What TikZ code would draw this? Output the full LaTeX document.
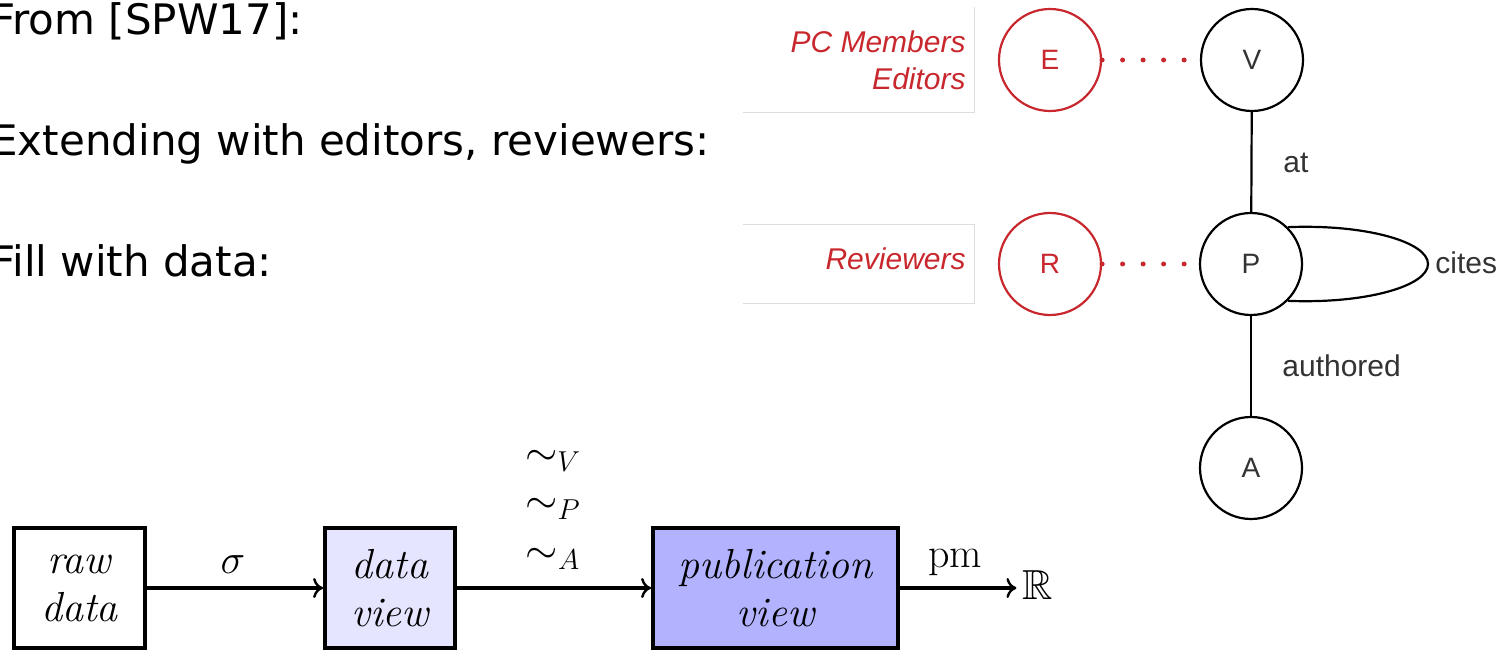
\documentclass[tikz,border=0pt]{standalone}
\usepackage{amssymb}
\usepackage{fontspec}
\usetikzlibrary{arrows.meta}
\newfontfamily\slidefont{DejaVu Sans}
\newfontfamily\diafont{Liberation Sans}
\definecolor{erred}{RGB}{200,40,45}
\definecolor{ink}{RGB}{51,51,51}
\definecolor{framegray}{RGB}{222,222,222}
\begin{document}
\begin{tikzpicture}[x=0.5pt,y=-0.5pt,
  heading/.style={anchor=base west, inner sep=0pt, font=\slidefont\fontsize{21}{25}\selectfont},
  entity/.style={circle, draw=black, line width=1.1pt, minimum size=51pt, inner sep=0pt,
    font=\diafont\fontsize{14}{16}\selectfont, text=ink},
  extentity/.style={entity, draw=erred, text=erred},
  edgelabel/.style={anchor=base west, inner sep=0pt, font=\diafont\fontsize{15}{18}\selectfont, text=ink},
  rolelabel/.style={anchor=base east, inner sep=0pt, font=\diafont\itshape\fontsize{15}{18}\selectfont, text=erred},
  labelframe/.style={rectangle, inner sep=0pt},
  relation/.style={draw=black, line width=1.1pt},
  extlink/.style={draw=erred, line width=2.5pt, line cap=round, dash pattern=on 0pt off 10.25pt},
  viewbox/.style={rectangle, draw=black, line width=1.9pt, inner sep=0pt, align=center,
    font=\fontsize{21}{24}\selectfont\itshape},
  flow/.style={-{Computer Modern Rightarrow[length=5pt,width=10pt,line width=1.2pt]}, line width=1.8pt},
  mlabel/.style={inner sep=0pt, font=\fontsize{21}{24}\selectfont},
]
\useasboundingbox (0,0) rectangle (1499,652);

% slide text
\node[heading] (h1) at (-9,35) {From [SPW17]:};
\node[heading] (h2) at (-9,156) {Extending with editors, reviewers:};
\node[heading] (h3) at (-9,277) {Fill with data:};

% schema graph
\node[labelframe, minimum width=115.5pt, minimum height=52.5pt] (frame1) at (858.5,59.5) {};
\node[labelframe, minimum width=115.5pt, minimum height=39pt] (frame2) at (858.5,264) {};
\draw[framegray, line width=0.6pt] (frame1.north east) -- (frame1.south east) -- (frame1.south west);
\draw[framegray, line width=0.6pt] (frame2.north west) -- (frame2.north east) -- (frame2.south east) -- (frame2.south west);
\node[rolelabel] (pcm) at (966,53) {PC Members};
\node[rolelabel] (edt) at (966,90) {Editors};
\node[rolelabel] (rev) at (966,270) {Reviewers};

\node[extentity] (E) at (1050,60) {E};
\node[entity] (V) at (1252,60) {V};
\node[extentity] (R) at (1050,264) {R};
\node[entity] (P) at (1251,264) {P};
\node[entity] (A) at (1251,468) {A};
\coordinate (loopend) at (1428,264);

\draw[relation] (V) -- (P);
\draw[relation] (P) -- (A);
\draw[relation] (P.45) .. controls (1366,224) and (1428,242) .. (loopend)
                       .. controls (1428,286) and (1366,304) .. (P.-45);
\draw[extlink] (E) -- (V);
\draw[extlink] (R) -- (P);

\node[edgelabel] (lat) at (1283,173) {at};
\node[edgelabel] (lauth) at (1282,376) {authored};
\node[edgelabel] (lcites) at (1435,274) {cites};

% data pipeline
\node[viewbox, minimum width=65.5pt, minimum height=60pt] (raw) at (79.5,588) {raw\\data};
\node[viewbox, fill=blue!10, minimum width=65pt, minimum height=60pt] (dview) at (390,588) {data\\view};
\node[viewbox, fill=blue!30, minimum width=122.5pt, minimum height=60pt] (pview) at (775.5,588) {publication\\view};
\node[mlabel, inner sep=3pt] (reals) at (1038,585) {$\mathbb{R}$};

\draw[flow] (raw) -- (dview);
\draw[flow] (dview) -- (pview);
\draw[flow] (pview) -- (pview -| reals.west);

\node[mlabel, anchor=base] (lsigma) at (233,573) {$\sigma$};
\node[mlabel, anchor=base] (simv) at (553,465) {$\sim_V$};
\node[mlabel, anchor=base] (simp) at (553,513) {$\sim_P$};
\node[mlabel, anchor=base] (sima) at (553,563) {$\sim_A$};
\node[mlabel, anchor=base] (lpm) at (955,567) {$\mathrm{pm}$};
\end{tikzpicture}
\end{document}
